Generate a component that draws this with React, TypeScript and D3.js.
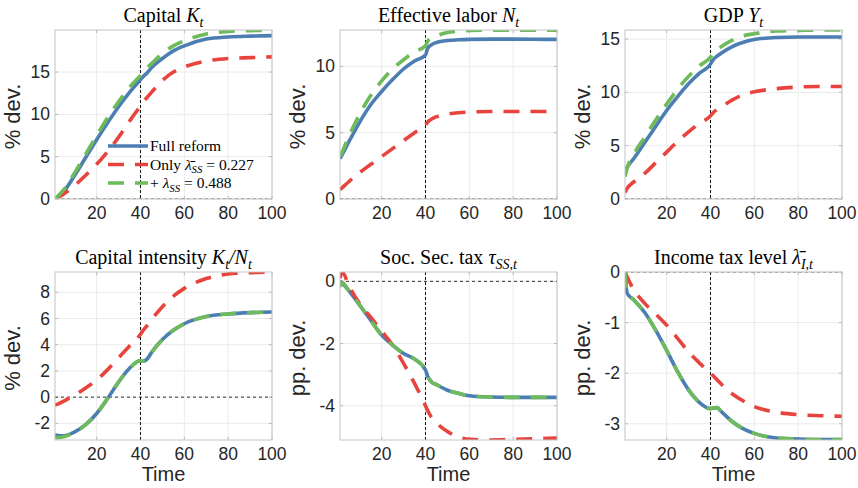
import React from "react";
import * as d3 from "d3";

// ---------- DATA ----------
const time = [1, 2, 5, 10, 15, 20, 25, 30, 35, 40, 41, 43, 45, 50, 55, 60, 70, 80, 90, 100];
const xTicks = [20, 40, 60, 80, 100];

const capFull = [0, 0.2, 0.9, 2.8, 4.9, 7.0, 9.0, 10.9, 12.6, 14.1, 14.4, 14.9, 15.5, 16.6, 17.5, 18.1, 18.9, 19.15, 19.25, 19.3];
const capOnly = [0, 0.15, 0.6, 1.6, 2.8, 4.1, 5.6, 7.3, 9.2, 11.0, 11.35, 12.0, 12.6, 14.0, 15.0, 15.6, 16.3, 16.6, 16.7, 16.8];
const capPlus = [0, 0.25, 1.1, 3.1, 5.3, 7.5, 9.6, 11.5, 13.2, 14.6, 14.9, 15.5, 16.0, 17.2, 18.1, 18.7, 19.5, 19.8, 19.9, 19.95];

const labFull = [3.05, 3.35, 4.3, 5.8, 7.1, 8.1, 9.0, 9.8, 10.4, 10.85, 11.35, 11.65, 11.8, 11.95, 12.0, 12.03, 12.05, 12.05, 12.04, 12.03];
const labOnly = [0.7, 0.85, 1.3, 2.0, 2.6, 3.2, 3.8, 4.4, 5.0, 5.55, 5.8, 6.05, 6.2, 6.4, 6.5, 6.55, 6.6, 6.6, 6.6, 6.6];
const labPlus = [3.2, 3.55, 4.7, 6.4, 7.8, 8.9, 9.8, 10.5, 11.1, 11.55, 11.9, 12.15, 12.3, 12.55, 12.65, 12.7, 12.72, 12.72, 12.72, 12.72];

const gdpFull = [2.7, 3.0, 3.8, 5.3, 6.8, 8.3, 9.6, 10.8, 11.8, 12.65, 13.0, 13.4, 13.7, 14.3, 14.7, 14.95, 15.15, 15.2, 15.2, 15.2];
const gdpOnly = [0.6, 1.0, 1.6, 2.4, 3.4, 4.4, 5.4, 6.3, 7.1, 7.8, 8.05, 8.4, 8.65, 9.3, 9.8, 10.05, 10.35, 10.5, 10.55, 10.55];
const gdpPlus = [2.1, 2.9, 4.2, 5.8, 7.4, 8.9, 10.3, 11.5, 12.5, 13.3, 13.6, 14.0, 14.3, 14.9, 15.3, 15.5, 15.75, 15.8, 15.85, 15.85];

const kiFull = [-2.85, -2.92, -2.95, -2.65, -2.1, -1.25, -0.1, 1.15, 2.2, 2.8, 2.74, 2.9, 3.4, 4.4, 5.1, 5.6, 6.15, 6.35, 6.45, 6.5];
const kiOnly = [-0.6, -0.55, -0.3, 0.15, 0.7, 1.3, 2.1, 3.0, 3.9, 4.8, 5.05, 5.45, 5.9, 6.9, 7.7, 8.3, 9.05, 9.4, 9.5, 9.55];
const kiPlus = [-3.05, -3.1, -3.02, -2.66, -2.1, -1.25, -0.1, 1.15, 2.2, 2.8, 2.74, 2.9, 3.4, 4.4, 5.1, 5.6, 6.15, 6.35, 6.45, 6.5];

const ssFull = [0, -0.06, -0.3, -0.77, -1.25, -1.73, -2.05, -2.32, -2.5, -2.85, -3.05, -3.25, -3.32, -3.5, -3.6, -3.68, -3.72, -3.73, -3.73, -3.73];
const ssOnly = [0.1, 0.3, -0.13, -0.72, -1.15, -1.6, -2.05, -2.64, -3.28, -4.0, -4.15, -4.4, -4.55, -4.83, -5.0, -5.08, -5.1, -5.08, -5.06, -5.04];
const ssPlus = [-0.18, -0.04, -0.3, -0.77, -1.25, -1.73, -2.05, -2.32, -2.5, -2.85, -3.05, -3.25, -3.32, -3.5, -3.6, -3.68, -3.72, -3.73, -3.73, -3.73];

const itFull = [0, -0.42, -0.55, -0.8, -1.15, -1.55, -1.97, -2.33, -2.58, -2.7, -2.69, -2.68, -2.76, -2.96, -3.1, -3.19, -3.28, -3.3, -3.31, -3.31];
const itOnly = [0, -0.1, -0.35, -0.62, -0.83, -1.05, -1.31, -1.58, -1.8, -2.0, -2.04, -2.13, -2.22, -2.41, -2.55, -2.66, -2.77, -2.82, -2.84, -2.85];
const itPlus = [0, -0.42, -0.55, -0.8, -1.15, -1.55, -1.97, -2.33, -2.58, -2.7, -2.69, -2.68, -2.76, -2.96, -3.1, -3.19, -3.28, -3.3, -3.31, -3.31];

type Part = { s: string; i?: boolean; sub?: boolean };

const titleCapital: Part[] = [{ s: "Capital " }, { s: "K", i: true }, { s: "t", i: true, sub: true }];
const titleLabor: Part[] = [{ s: "Effective labor " }, { s: "N", i: true }, { s: "t", i: true, sub: true }];
const titleGdp: Part[] = [{ s: "GDP " }, { s: "Y", i: true }, { s: "t", i: true, sub: true }];
const titleIntensity: Part[] = [
  { s: "Capital intensity " }, { s: "K", i: true }, { s: "t", i: true, sub: true },
  { s: "/", i: true }, { s: "N", i: true }, { s: "t", i: true, sub: true },
];
const titleSS: Part[] = [{ s: "Soc. Sec. tax " }, { s: "τ", i: true }, { s: "SS,t", i: true, sub: true }];
const titleIT: Part[] = [{ s: "Income tax level " }, { s: "λ̄", i: true }, { s: "I,t", i: true, sub: true }];

const legendLabels: Part[][] = [
  [{ s: "Full reform" }],
  [{ s: "Only " }, { s: "λ̄", i: true }, { s: "SS", i: true, sub: true }, { s: " = 0.227" }],
  [{ s: "+ " }, { s: "λ", i: true }, { s: "SS", i: true, sub: true }, { s: " = 0.488" }],
];

const yLabelPct = "% dev.";
const yLabelPP = "pp. dev.";
const xLabel = "Time";

// ---------- STYLE / LAYOUT ----------
const COLORS = { full: "#4c7eb4", only: "#e8443e", plus: "#6dbb5a" };
const colsX = [[55, 272], [340, 557], [625, 842]];
const rowsY = [[30, 199], [272, 440]];
const SANS = "'Liberation Sans', Arial, Helvetica, sans-serif";
const SERIF = "'Liberation Serif', 'Times New Roman', serif";
const DASH = "16 11";

const panels = [
  { title: titleCapital, ylabel: yLabelPct, yDomain: [0, 19.97], yTicks: [0, 5, 10, 15], full: capFull, only: capOnly, plus: capPlus, row: 0, col: 0, legend: true },
  { title: titleLabor, ylabel: yLabelPct, yDomain: [0, 12.74], yTicks: [0, 5, 10], full: labFull, only: labOnly, plus: labPlus, row: 0, col: 1 },
  { title: titleGdp, ylabel: yLabelPct, yDomain: [0, 15.85], yTicks: [0, 5, 10, 15], full: gdpFull, only: gdpOnly, plus: gdpPlus, row: 0, col: 2 },
  { title: titleIntensity, ylabel: yLabelPct, yDomain: [-3.27, 9.55], yTicks: [-2, 0, 2, 4, 6, 8], full: kiFull, only: kiOnly, plus: kiPlus, row: 1, col: 0 },
  { title: titleSS, ylabel: yLabelPP, yDomain: [-5.1, 0.3], yTicks: [-4, -2, 0], full: ssFull, only: ssOnly, plus: ssPlus, row: 1, col: 1 },
  { title: titleIT, ylabel: yLabelPP, yDomain: [-3.32, 0], yTicks: [-3, -2, -1, 0], full: itFull, only: itOnly, plus: itPlus, row: 1, col: 2 },
];

function MathText({ parts, x, y, size, anchor }: { parts: Part[]; x: number; y: number; size: number; anchor: string }) {
  let prevSub = false;
  const shift = size * 0.25;
  return (
    <text x={x} y={y} fontFamily={SERIF} fontSize={size} textAnchor={anchor} fill="#000">
      {parts.map((p, k) => {
        let dy = 0;
        if (p.sub && !prevSub) dy = shift;
        if (!p.sub && prevSub) dy = -shift;
        prevSub = !!p.sub;
        return (
          <tspan key={k} dy={dy} fontStyle={p.i ? "italic" : "normal"} fontSize={p.sub ? size * 0.7 : size}>
            {p.s}
          </tspan>
        );
      })}
    </text>
  );
}

function Panel({ p, idx }: { p: any; idx: number }) {
  const [x0, x1] = colsX[p.col];
  const [y0, y1] = rowsY[p.row];
  const x = d3.scaleLinear().domain([1, 100]).range([x0, x1]);
  const y = d3.scaleLinear().domain(p.yDomain).range([y1, y0]);
  const line = d3
    .line<[number, number]>()
    .x((d) => x(d[0]))
    .y((d) => y(d[1]))
    .curve(d3.curveMonotoneX);
  const mk = (arr: number[]) => line(time.map((t, i) => [t, arr[i]] as [number, number])) || "";
  const clipId = `clip${idx}`;
  const isBottom = p.row === 1;
  return (
    <g>
      <defs>
        <clipPath id={clipId}>
          <rect x={x0} y={y0} width={x1 - x0} height={y1 - y0} />
        </clipPath>
      </defs>
      <rect x={x0} y={y0} width={x1 - x0} height={y1 - y0} fill="#fff" />
      {xTicks.map((t) => (
        <line key={"gx" + t} x1={x(t)} x2={x(t)} y1={y0} y2={y1} stroke="#ebebeb" strokeWidth={1} />
      ))}
      {p.yTicks.map((t: number) => (
        <line key={"gy" + t} x1={x0} x2={x1} y1={y(t)} y2={y(t)} stroke="#ebebeb" strokeWidth={1} />
      ))}
      {xTicks.map((t) => (
        <g key={"tx" + t}>
          <line x1={x(t)} x2={x(t)} y1={y1} y2={y1 - 3} stroke="#b8b8b8" />
          <line x1={x(t)} x2={x(t)} y1={y0} y2={y0 + 3} stroke="#b8b8b8" />
        </g>
      ))}
      {p.yTicks.map((t: number) => (
        <g key={"ty" + t}>
          <line x1={x0} x2={x0 + 3} y1={y(t)} y2={y(t)} stroke="#b8b8b8" />
          <line x1={x1} x2={x1 - 3} y1={y(t)} y2={y(t)} stroke="#b8b8b8" />
        </g>
      ))}
      <g clipPath={`url(#${clipId})`}>
        <line x1={x0} x2={x1} y1={y(0)} y2={y(0)} stroke="#333" strokeWidth={1} strokeDasharray="3 3" />
        <line x1={x(40)} x2={x(40)} y1={y0} y2={y1} stroke="#111" strokeWidth={1} strokeDasharray="3 2" />
        <path d={mk(p.full)} fill="none" stroke={COLORS.full} strokeWidth={3.6} />
        <path d={mk(p.only)} fill="none" stroke={COLORS.only} strokeWidth={3.6} strokeDasharray={DASH} />
        <path d={mk(p.plus)} fill="none" stroke={COLORS.plus} strokeWidth={3.6} strokeDasharray={DASH} />
      </g>
      <rect x={x0} y={y0} width={x1 - x0} height={y1 - y0} fill="none" stroke="#c4c4c4" strokeWidth={1} />
      {xTicks.map((t) => (
        <text key={"lx" + t} x={x(t)} y={y1 + 20} textAnchor="middle" fontFamily={SANS} fontSize={17.5} fill="#262626">
          {t}
        </text>
      ))}
      {p.yTicks.map((t: number) => (
        <text key={"ly" + t} x={x0 - 5} y={y(t) + 6} textAnchor="end" fontFamily={SANS} fontSize={17.5} fill="#262626">
          {t}
        </text>
      ))}
      <text
        transform={`translate(${x0 - 35},${(y0 + y1) / 2 + 2}) rotate(-90)`}
        textAnchor="middle"
        fontFamily={SANS}
        fontSize={22}
        fill="#262626"
      >
        {p.ylabel}
      </text>
      {isBottom && (
        <text x={(x0 + x1) / 2} y={y1 + 41} textAnchor="middle" fontFamily={SANS} fontSize={20} fill="#262626">
          {xLabel}
        </text>
      )}
      <MathText parts={p.title} x={(x0 + x1) / 2} y={y0 - 8} size={20} anchor="middle" />
      {p.legend && (
        <g>
          {legendLabels.map((lab, k) => {
            const ly = 146 + k * 18.5;
            const color = k === 0 ? COLORS.full : k === 1 ? COLORS.only : COLORS.plus;
            return (
              <g key={"lg" + k}>
                <line x1={108} x2={148} y1={ly} y2={ly} stroke={color} strokeWidth={3.6} strokeDasharray={k === 0 ? undefined : DASH} />
                <MathText parts={lab} x={150} y={ly + 5} size={15.5} anchor="start" />
              </g>
            );
          })}
        </g>
      )}
    </g>
  );
}

export default function App() {
  return (
    <div style={{ position: "absolute", left: 0, top: 0 }}>
      <svg width={858} height={488} style={{ display: "block", background: "#fff" }}>
        {panels.map((p, i) => (
          <Panel key={i} p={p} idx={i} />
        ))}
      </svg>
    </div>
  );
}
